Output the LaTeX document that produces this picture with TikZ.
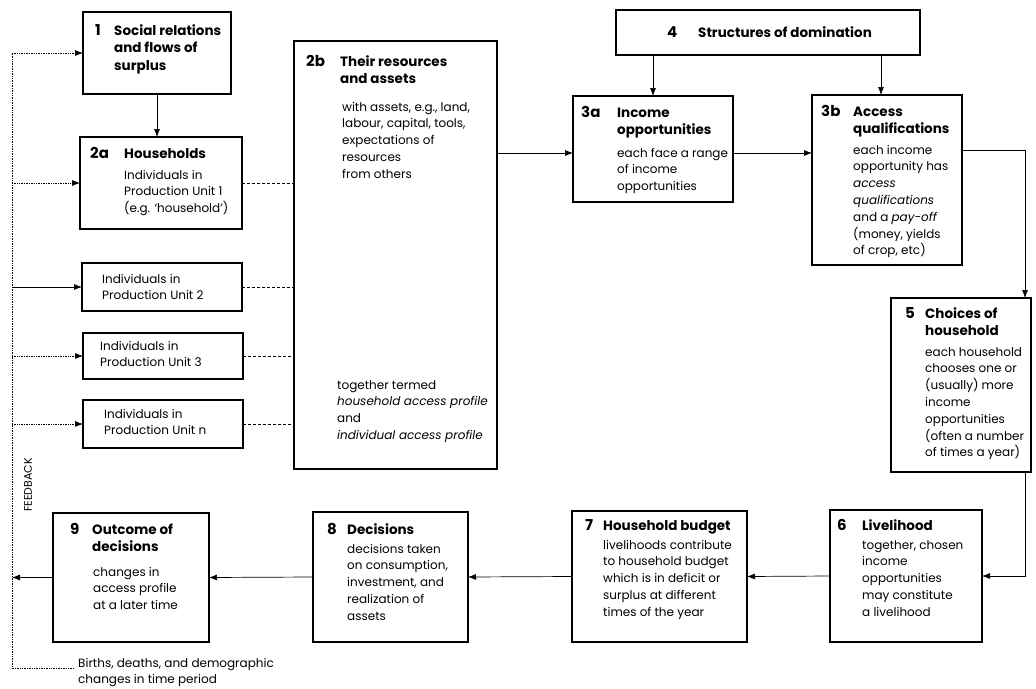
\documentclass[tikz,border=0pt]{standalone}
\usepackage{fontspec}
\setmainfont{Poppins}
\usetikzlibrary{arrows.meta,calc}
\newcommand\mylines[1]{\begin{tabular}[t]{@{}l@{}}#1\end{tabular}}
\tikzset{
  box/.style={draw, line width=1.8pt, rectangle, anchor=north west, inner sep=0pt, outer sep=0pt},
  num/.style={anchor=base west, inner sep=0pt, font=\fontsize{15}{18}\selectfont\bfseries},
  ttl/.style={anchor=base west, inner sep=0pt, font=\fontsize{13.5}{17.5}\selectfont\bfseries},
  txt/.style={anchor=base west, inner sep=0pt, font=\fontsize{12}{16.8}\selectfont},
  conn/.style={line width=0.7pt, -{Latex[length=8pt,width=6pt]}},
  fbarrow/.style={line width=0.7pt, densely dotted, -{Latex[length=8pt,width=6pt]}},
  fbline/.style={line width=0.7pt, densely dotted},
  link/.style={line width=1pt, dash pattern=on 3pt off 2pt},
}
\begin{document}
\begin{tikzpicture}[x=1pt,y=-1pt]
\useasboundingbox[fill=white] (0,0) rectangle (1036,688);

% ---------- boxes ----------
\node[box, minimum width=148pt, minimum height=82pt] (b1) at (83,12) {};
\node[box, minimum width=162pt, minimum height=92pt] (b2a) at (80,137) {};
\node[box, minimum width=160pt, minimum height=48pt] (u2) at (82,263) {};
\node[box, minimum width=160pt, minimum height=46pt] (u3) at (83,333) {};
\node[box, minimum width=160pt, minimum height=48pt] (un) at (83,400) {};
\node[box, minimum width=203pt, minimum height=428pt] (b2b) at (294,41) {};
\node[box, minimum width=304pt, minimum height=45pt] (b4) at (616,10) {};
\node[box, minimum width=160pt, minimum height=106pt] (b3a) at (573,96) {};
\node[box, minimum width=150pt, minimum height=170pt] (b3b) at (812,95) {};
\node[box, minimum width=140pt, minimum height=174pt] (b5) at (891,298) {};
\node[box, minimum width=152pt, minimum height=132pt] (b6) at (830,510) {};
\node[box, minimum width=175pt, minimum height=131pt] (b7) at (572,511) {};
\node[box, minimum width=155pt, minimum height=130pt] (b8) at (313,512) {};
\node[box, minimum width=156pt, minimum height=129pt] (b9) at (53,513) {};

% ---------- texts ----------
\node[num] (n1) at (95,35) {1};
\node[ttl] (t1) at (114,35) {\mylines{Social relations\\and flows of\\surplus}};

\node[num] (n2a) at (90,158) {2a};
\node[ttl] (t2a) at (124,158) {Households};
\node[txt] (x2a) at (124,179) {\mylines{Individuals in\\Production Unit 1\\(e.g. `household')}};

\node[txt] (xu2) at (102,283) {\mylines{Individuals in\\Production Unit 2}};
\node[txt] (xu3) at (100,350) {\mylines{Individuals in\\Production Unit 3}};
\node[txt] (xun) at (104,418) {\mylines{Individuals in\\Production Unit n}};

\node[num] (n2b) at (306,66) {2b};
\node[ttl] (t2b) at (340,66) {\mylines{Their resources\\and assets}};
\node[txt] (x2b) at (342,111) {\mylines{with assets, e.g., land,\\labour, capital, tools,\\expectations of\\resources\\from others}};
\node[txt] (y2b) at (337,389) {\mylines{together termed\\\textit{household access profile}\\and\\\textit{individual access profile}}};

\node[num] (n4) at (667,37) {4};
\node[ttl] (t4) at (698,37) {Structures of domination};

\node[num] (n3a) at (581,117) {3a};
\node[ttl] (t3a) at (617,117) {\mylines{Income\\opportunities}};
\node[txt] (x3a) at (617,157) {\mylines{each face a range\\of income\\opportunities}};

\node[num] (n3b) at (821,116) {3b};
\node[ttl] (t3b) at (853,116) {\mylines{Access\\qualifications}};
\node[txt] (x3b) at (853,154) {\mylines{each income\\opportunity has\\\textit{access}\\\textit{qualifications}\\and a \textit{pay-off}\\(money, yields\\of crop, etc)}};

\node[num] (n5) at (905,318) {5};
\node[ttl] (t5) at (925,318) {\mylines{Choices of\\household}};
\node[txt] (x5) at (925,356) {\mylines{each household\\chooses one or\\(usually) more\\income\\opportunities\\(often a number\\of times a year)}};

\node[num] (n6) at (837,530) {6};
\node[ttl] (t6) at (862,530) {Livelihood};
\node[txt] (x6) at (862,549) {\mylines{together, chosen\\income\\opportunities\\may constitute\\a livelihood}};

\node[num] (n7) at (585,530) {7};
\node[ttl] (t7) at (603,530) {Household budget};
\node[txt] (x7) at (603,549) {\mylines{livelihoods contribute\\to household budget\\which is in deficit or\\surplus at different\\times of the year}};

\node[num] (n8) at (327,534) {8};
\node[ttl] (t8) at (347,534) {Decisions};
\node[txt] (x8) at (347,553) {\mylines{decisions taken\\on consumption,\\investment, and\\realization of\\assets}};

\node[num] (n9) at (70,534) {9};
\node[ttl] (t9) at (92,534) {\mylines{Outcome of\\decisions}};
\node[txt] (x9) at (93,576) {\mylines{changes in\\access profile\\at a later time}};

\node[rotate=90, inner sep=0pt, font=\fontsize{11}{13}\selectfont] (fbl) at (28,485) {FEEDBACK};
\node[txt] (births) at (78,667) {\mylines{Births, deaths, and demographic\\changes in time period}};

% ---------- feedback line ----------
\coordinate (fbtop) at (12,54);
\coordinate (fbbot) at (12,668);
\coordinate (fbend) at (73,668);
\draw[fbline] (fbtop) -- (fbbot) -- (fbend);
\draw[fbarrow] (b1.west -| fbtop) -- (b1.west);
\draw[fbarrow] (b2a.west -| fbtop) -- (b2a.west);
\draw[conn] (u2.west -| fbtop) -- (u2.west);
\draw[fbarrow] (u3.west -| fbtop) -- (u3.west);
\draw[fbarrow] (un.west -| fbtop) -- (un.west);

% ---------- links to 2b ----------
\draw[link] (b2a.east) -- (b2a.east -| b2b.west);
\draw[link] (u2.east) -- (u2.east -| b2b.west);
\draw[link] (u3.east) -- (u3.east -| b2b.west);
\draw[link] (un.east) -- (un.east -| b2b.west);

% ---------- main flow ----------
\draw[conn] (b1.south) -- (b1.south |- b2a.north);
\coordinate (r1) at ($(b3a.north west)+(0,57)$);
\draw[conn] (r1 -| b2b.east) -- (r1);
\draw[conn] (r1 -| b3a.east) -- (r1 -| b3b.west);
\draw[conn] (b4.south -| b3a.north) -- (b3a.north);
\coordinate (a3b) at ($(b3b.north)+(-6,0)$);
\draw[conn] (a3b |- b4.south) -- (a3b);
\coordinate (s3b) at ($(b3b.north east)+(0,55)$);
\coordinate (t5) at ($(b5.north east)+(-6,0)$);
\draw[conn] (s3b) -| (t5);
\coordinate (s5) at ($(b5.south east)+(-6,0)$);
\draw[conn] (s5) |- (b6.east);
\draw[conn] (b6.west) -- (b7.east);
\draw[conn] (b7.west) -- (b8.east);
\draw[conn] (b8.west) -- (b9.east);
\draw[conn] (b9.west) -- (b9.west -| fbtop);
\end{tikzpicture}
\end{document}
